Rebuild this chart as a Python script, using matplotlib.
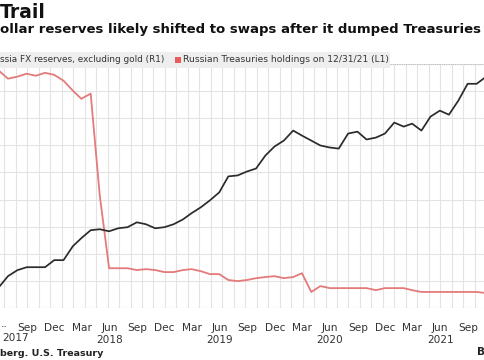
import matplotlib
matplotlib.use("Agg")
import matplotlib.pyplot as plt
import matplotlib.dates as mdates
import matplotlib.ticker as mticker
from matplotlib.patches import Rectangle
import pandas as pd
import datetime as dt

# ---------------- data (month-end values) ----------------
months = pd.date_range("2017-05-31", "2021-11-30", freq="ME")

treasuries_bn = [105.0, 101.5, 102.4, 103.7, 102.8, 104.1, 103.2, 100.6, 96.2, 92.6,
                 94.9, 49.9, 17.6, 17.6, 17.6, 16.8, 17.2, 16.8, 15.9, 15.9,
                 16.8, 17.2, 16.3, 15.0, 15.0, 12.4, 11.9, 12.4, 13.2, 13.7,
                 14.1, 13.2, 13.7, 15.4, 7.1, 9.7, 8.8, 8.8, 8.8, 8.8,
                 8.8, 7.9, 8.8, 8.8, 8.8, 7.9, 7.1, 7.1, 7.1, 7.1,
                 7.1, 7.1, 7.1, 6.6, 6.6]

fx_reserves_bn = [335.4, 343.5, 347.9, 350.1, 350.1, 350.1, 355.3, 355.3, 365.6, 371.5,
                  377.4, 378.1, 376.6, 378.8, 379.6, 383.2, 381.8, 378.8, 379.6, 381.8,
                  385.4, 389.9, 394.3, 399.4, 405.3, 417.1, 417.8, 420.7, 422.9, 432.5,
                  439.1, 443.5, 450.9, 447.2, 443.5, 439.9, 438.4, 437.6, 448.7, 450.1,
                  444.3, 445.7, 448.7, 456.8, 453.8, 456.0, 450.9, 461.2, 465.6, 462.6,
                  472.9, 485.4, 485.4, 490.6]

tick_dates = pd.date_range("2017-09-01", "2021-09-01", freq="QS-MAR")

legend_fx = "ssia FX reserves, excluding gold (R1)"
legend_tr = "Russian Treasuries holdings on 12/31/21 (L1)"
title_txt = "Trail"
subtitle_txt = "ollar reserves likely shifted to swaps after it dumped Treasuries"
source_txt = "berg. U.S. Treasury"

# ---------------- layout ----------------
W, H = 485, 360
fig = plt.figure(figsize=(W / 100, H / 100), dpi=100)
fig.patch.set_facecolor("white")

ax_l_px, ax_r_px = -30, 515
ax_top_px, ax_bot_px = 64, 308
ax = fig.add_axes([ax_l_px / W, (H - ax_bot_px) / H,
                   (ax_r_px - ax_l_px) / W, (ax_bot_px - ax_top_px) / H])
ax2 = ax.twinx()

# x scale: Sep 2017 tick at pixel 27, 0.3018 px per day
origin = dt.datetime(2017, 9, 1)
px_per_day = 0.3018
xl = origin + dt.timedelta(days=(ax_l_px - 27) / px_per_day)
xr = origin + dt.timedelta(days=(ax_r_px - 27) / px_per_day)
ax.set_xlim(xl, xr)

ax.set_ylim(0, 108)
ax2.set_ylim(320, 500)
ax.yaxis.set_major_locator(mticker.MultipleLocator(12))
ax2.yaxis.set_major_locator(mticker.MultipleLocator(20))

red = "#e47a7a"
black = "#2b2b2b"

ax.plot(months, treasuries_bn[:len(months)], color=red, lw=1.3, zorder=3)
ax2.plot(months[:len(fx_reserves_bn)], fx_reserves_bn, color=black, lw=1.25, zorder=3)

# grid
grid_c = "#e3e3e3"
ax.grid(axis="y", color=grid_c, lw=0.8)
ax.set_axisbelow(True)
for d in pd.date_range(xl, xr, freq="38D"):
    ax.axvline(d, color=grid_c, lw=0.8, zorder=0)

for a in (ax, ax2):
    for s in a.spines.values():
        s.set_visible(False)
    a.tick_params(axis="y", left=False, right=False, labelleft=False, labelright=False)

ax.axhline(108, color="#bdbdbd", lw=0.8, ls=(0, (1, 1)), zorder=1)
ax.axhline(0, color=grid_c, lw=0.8, zorder=1)

# x ticks
ax.set_xticks(tick_dates)
labels = []
for d in tick_dates:
    lab = d.strftime("%b")
    if d.month == 6:
        lab += "\n%d" % d.year
    labels.append(lab)
ax.set_xticklabels(labels, linespacing=1.25)
ax.tick_params(axis="x", length=0, pad=11, labelsize=7.6, colors="#333333")
ax2.tick_params(axis="x", length=0)

fig.text(1 / W, 1 - 324 / H, "..", ha="left", va="center", fontsize=7.6, color="#333333")
fig.text(16 / W, 1 - 338 / H, "2017", ha="center", va="center", fontsize=7.6, color="#333333")

# titles
fig.text(0, 1 - 13 / H, title_txt, ha="left", va="center", fontsize=13.5,
         fontweight="bold", color="#111111")
fig.text(0, 1 - 30 / H, subtitle_txt, ha="left", va="center", fontsize=9.5,
         fontweight="bold", color="#111111")

# legend box
fig.patches.append(Rectangle((0, 1 - 68 / H), 390 / W, 16 / H, transform=fig.transFigure,
                             facecolor="#eeeeee", edgecolor="none", zorder=5))
fig.text(0, 1 - 60 / H, legend_fx, ha="left", va="center", fontsize=6.4,
         color="#333333", zorder=6)
fig.patches.append(Rectangle((175 / W, 1 - 63 / H), 6 / W, 6 / H, transform=fig.transFigure,
                             facecolor="#e85c5c", edgecolor="none", zorder=6))
fig.text(183 / W, 1 - 60 / H, legend_tr, ha="left", va="center", fontsize=6.6,
         color="#333333", zorder=6)

# source
fig.text(0, 1 - 353 / H, source_txt, ha="left", va="center", fontsize=6.8,
         fontweight="bold", color="#222222")
fig.text(477 / W, 1 - 352 / H, "B", ha="left", va="center", fontsize=7.5,
         fontweight="bold", color="#222222")

fig.savefig("out.png", dpi=100)
